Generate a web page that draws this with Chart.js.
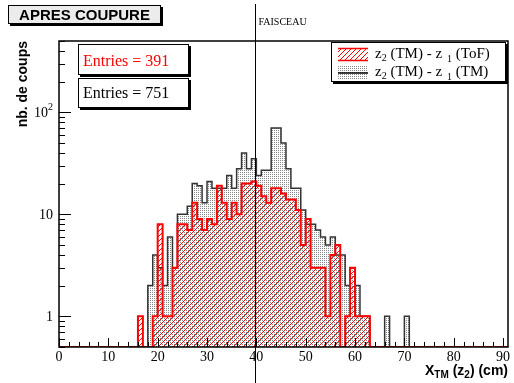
<!DOCTYPE html>
<html>
<head>
<meta charset="utf-8">
<script src="https://cdn.jsdelivr.net/npm/chart.js@4/dist/chart.umd.min.js"></script>
<style>
  html, body { margin: 0; padding: 0; background: #fff; }
  #wrap { position: relative; width: 514px; height: 383px; }
</style>
</head>
<body>
<div id="wrap"><canvas id="c" width="514" height="383"></canvas></div>
<script>
// ---------------- Data ----------------
// bins are 1 cm wide, first bin starts at binStart
const binStart = 16;
const countsToF = [1,0,0,1,8,1,1,3,8,8, 7,13,9,7,9,8,19,13,9,13, 10,20,20,21,19,15,13,18,18,16,
                   14,14,11,5,9,3,3,3,1,4, 5,0,1,3,1,1,1];
const countsTM  = [0,0,2,4,3,2,6,3,10,10, 12,20,19,13,21,18,18,18,24,18, 28,40,28,35,24,27,27,70,70,50,
                   28,18,18,11,8,8,7,6,5,6, 4,4,2,3,2,1,1,0,0,0, 1,0,0,0,1];
const entriesToF = 391;
const entriesTM = 751;
const xTickLabels = [0,10,20,30,40,50,60,70,80,90];
const yTickValues = [1,10,100];
const xMin = 0, xMax = 91;
const yMin = 0.5, yMax = 500;
const beamPosition = 40;   // FAISCEAU

// ---------------- Patterns ----------------
function hatchPattern(color) {
    const c = document.createElement('canvas');
    c.width = 5; c.height = 5;
    const g = c.getContext('2d');
    g.strokeStyle = color; g.lineWidth = 1;
    g.beginPath();
    g.moveTo(-1, 6); g.lineTo(6, -1);
    g.moveTo(-1, 1); g.lineTo(1, -1);
    g.moveTo(4, 6); g.lineTo(6, 4);
    g.stroke();
    return g.createPattern(c, 'repeat');
}
function dotPattern(color) {
    const c = document.createElement('canvas');
    c.width = 2; c.height = 2;
    const g = c.getContext('2d');
    g.fillStyle = color;
    g.fillRect(0, 0, 1, 1);
    return g.createPattern(c, 'repeat');
}

// histogram -> stepped points (zero bins sit on the axis bottom)
function histPoints(counts) {
    const pts = [{x: xMin, y: yMin}];
    counts.forEach((v, i) => pts.push({x: binStart + i, y: v > 0 ? v : yMin}));
    pts.push({x: binStart + counts.length, y: yMin});
    pts.push({x: xMax, y: yMin});
    return pts;
}

// rich text: parts = [{t, size, dy, dx, bold}]
function drawParts(ctx, parts, x, y, family, color) {
    ctx.fillStyle = color;
    ctx.textAlign = 'left';
    ctx.textBaseline = 'alphabetic';
    let cx = x;
    parts.forEach(p => {
        ctx.font = `${p.bold ? 'bold ' : ''}${p.size}px ${family}`;
        cx += p.dx || 0;
        ctx.fillText(p.t, cx, y + (p.dy || 0));
        cx += ctx.measureText(p.t).width;
    });
    return cx;
}
function partsWidth(ctx, parts, family) {
    let w = 0;
    parts.forEach(p => {
        ctx.font = `${p.bold ? 'bold ' : ''}${p.size}px ${family}`;
        w += ctx.measureText(p.t).width + (p.dx || 0);
    });
    return w;
}

function shadowBox(ctx, x, y, w, h, fill, sh) {
    ctx.fillStyle = '#000';
    ctx.fillRect(x + sh, y + sh, w, h);
    ctx.fillStyle = fill;
    ctx.fillRect(x, y, w, h);
    ctx.strokeStyle = '#000'; ctx.lineWidth = 1;
    ctx.strokeRect(x + 0.5, y + 0.5, w - 1, h - 1);
}

const SERIF = '"Liberation Serif", "Times New Roman", serif';
const SANS = '"Liberation Sans", Arial, Helvetica, sans-serif';

// ---------------- Décor ROOT ----------------
const rootDecor = {
    id: 'rootDecor',
    afterDatasetsDraw(chart) {
        const {ctx, chartArea: a, scales: {x, y}} = chart;
        ctx.save();

        // ticks x
        ctx.strokeStyle = '#000'; ctx.lineWidth = 1;
        for (let v = xMin; v <= xMax; v += 2) {
            const px = Math.round(x.getPixelForValue(v)) + 0.5;
            const len = v % 10 === 0 ? 9 : 5;
            ctx.beginPath(); ctx.moveTo(px, a.bottom); ctx.lineTo(px, a.bottom - len); ctx.stroke();
        }
        // ticks y (log)
        for (let d = -1; d <= 2; d++) {
            for (let m = 1; m <= 9; m++) {
                const v = m * Math.pow(10, d);
                if (v < yMin || v > yMax) continue;
                const py = Math.round(y.getPixelForValue(v)) + 0.5;
                const len = m === 1 ? 12 : 6;
                ctx.beginPath(); ctx.moveTo(a.left, py); ctx.lineTo(a.left + len, py); ctx.stroke();
            }
        }

        // frame
        ctx.lineWidth = 1.5;
        ctx.strokeRect(a.left, a.top, a.right - a.left, a.bottom - a.top);

        // x labels
        ctx.fillStyle = '#000';
        ctx.font = `14px ${SERIF}`;
        ctx.textAlign = 'center'; ctx.textBaseline = 'alphabetic';
        xTickLabels.forEach(v => ctx.fillText(String(v), x.getPixelForValue(v), a.bottom + 14));

        // y labels
        yTickValues.forEach(v => {
            const py = y.getPixelForValue(v) + 5;
            if (v >= 100) {
                const exp = String(Math.round(Math.log10(v)));
                ctx.font = `10px ${SERIF}`;
                const we = ctx.measureText(exp).width;
                ctx.textAlign = 'right';
                ctx.fillText(exp, a.left - 6, py - 7);
                ctx.font = `14px ${SERIF}`;
                ctx.fillText('10', a.left - 6 - we, py);
            } else {
                ctx.font = `14px ${SERIF}`;
                ctx.textAlign = 'right';
                ctx.fillText(String(v), a.left - 6, py);
            }
        });

        // axis titles
        const xTitle = [
            {t: 'X', size: 14, bold: true},
            {t: 'TM', size: 10, bold: true, dy: 3},
            {t: ' (z', size: 14, bold: true},
            {t: '2', size: 10, bold: true, dy: 3},
            {t: ') (cm)', size: 14, bold: true}
        ];
        const wx = partsWidth(ctx, xTitle, SANS);
        drawParts(ctx, xTitle, a.right - wx, 375, SANS, '#000');

        ctx.save();
        ctx.translate(27, a.top);
        ctx.rotate(-Math.PI / 2);
        ctx.font = `bold 14px ${SANS}`;
        ctx.textAlign = 'right';
        ctx.fillStyle = '#000';
        ctx.fillText('nb. de coups', 0, 0);
        ctx.restore();

        // beam line
        const bx = Math.round(x.getPixelForValue(beamPosition)) - 0.5;
        ctx.strokeStyle = '#000'; ctx.lineWidth = 1;
        ctx.beginPath(); ctx.moveTo(bx, 4); ctx.lineTo(bx, 383); ctx.stroke();
        ctx.font = `10px ${SERIF}`;
        ctx.textAlign = 'left';
        ctx.fillStyle = '#000';
        ctx.fillText('FAISCEAU', bx + 3, 25);

        // title
        shadowBox(ctx, 8, 5, 153, 19, '#ececec', 2);
        ctx.fillStyle = '#000';
        ctx.font = `bold 15px ${SANS}`;
        ctx.textAlign = 'center';
        ctx.fillText('APRES COUPURE', 8 + 153 / 2, 20);

        // stats boxes
        shadowBox(ctx, 78, 44, 111, 31, '#fff', 2);
        shadowBox(ctx, 78, 78, 111, 30, '#fff', 2);
        ctx.font = `16px ${SERIF}`;
        ctx.textAlign = 'left';
        ctx.fillStyle = '#ff0000';
        ctx.fillText(`Entries = ${entriesToF}`, 83, 66);
        ctx.fillStyle = '#000';
        ctx.fillText(`Entries = ${entriesTM}`, 83, 98);

        // legend
        shadowBox(ctx, 331, 42, 175, 40, '#fff', 2);
        const ds = chart.data.datasets;
        // swatch 1
        ctx.fillStyle = ds[0].backgroundColor;
        ctx.fillRect(338, 48, 30, 13);
        ctx.strokeStyle = ds[0].borderColor; ctx.lineWidth = 1.5;
        ctx.beginPath();
        ctx.moveTo(338, 48.5); ctx.lineTo(368, 48.5);
        ctx.moveTo(338, 60.5); ctx.lineTo(368, 60.5);
        ctx.stroke();
        // swatch 2
        ctx.fillStyle = ds[1].backgroundColor;
        ctx.fillRect(338, 66, 30, 14);
        ctx.strokeStyle = '#000'; ctx.lineWidth = 1.5;
        ctx.beginPath(); ctx.moveTo(338, 73); ctx.lineTo(368, 73); ctx.stroke();

        const leg = (src) => [
            {t: 'z', size: 15},
            {t: '2', size: 10, dy: 3},
            {t: ' (TM) - z', size: 15},
            {t: '1', size: 10, dy: 4, dx: 5},
            {t: ' (' + src + ')', size: 15}
        ];
        drawParts(ctx, leg('ToF'), 375, 58, SERIF, '#000');
        drawParts(ctx, leg('TM'), 375, 76, SERIF, '#000');

        ctx.restore();
    }
};

// ---------------- Chart ----------------
const canvas = document.getElementById('c');
new Chart(canvas, {
    type: 'line',
    data: {
        datasets: [
            { label: 'z2 (TM) - z1 (ToF)', data: histPoints(countsToF), stepped: 'before',
              borderColor: '#ff0000', borderWidth: 2, backgroundColor: hatchPattern('#ff0000'),
              fill: 'start', pointRadius: 0, tension: 0, borderJoinStyle: 'miter' },
            { label: 'z2 (TM) - z1 (TM)', data: histPoints(countsTM), stepped: 'before',
              borderColor: '#333', borderWidth: 1.5, backgroundColor: dotPattern('#888'),
              fill: 'start', pointRadius: 0, tension: 0, borderJoinStyle: 'miter' }
        ]
    },
    options: {
        responsive: false,
        animation: false,
        devicePixelRatio: 1,
        layout: { padding: { left: 59, top: 41, right: 6, bottom: 36 } },
        scales: {
            x: { type: 'linear', min: xMin, max: xMax, display: false },
            y: { type: 'logarithmic', min: yMin, max: yMax, display: false }
        },
        plugins: { legend: { display: false }, tooltip: { enabled: false } }
    },
    plugins: [rootDecor]
});
</script>
</body>
</html>
